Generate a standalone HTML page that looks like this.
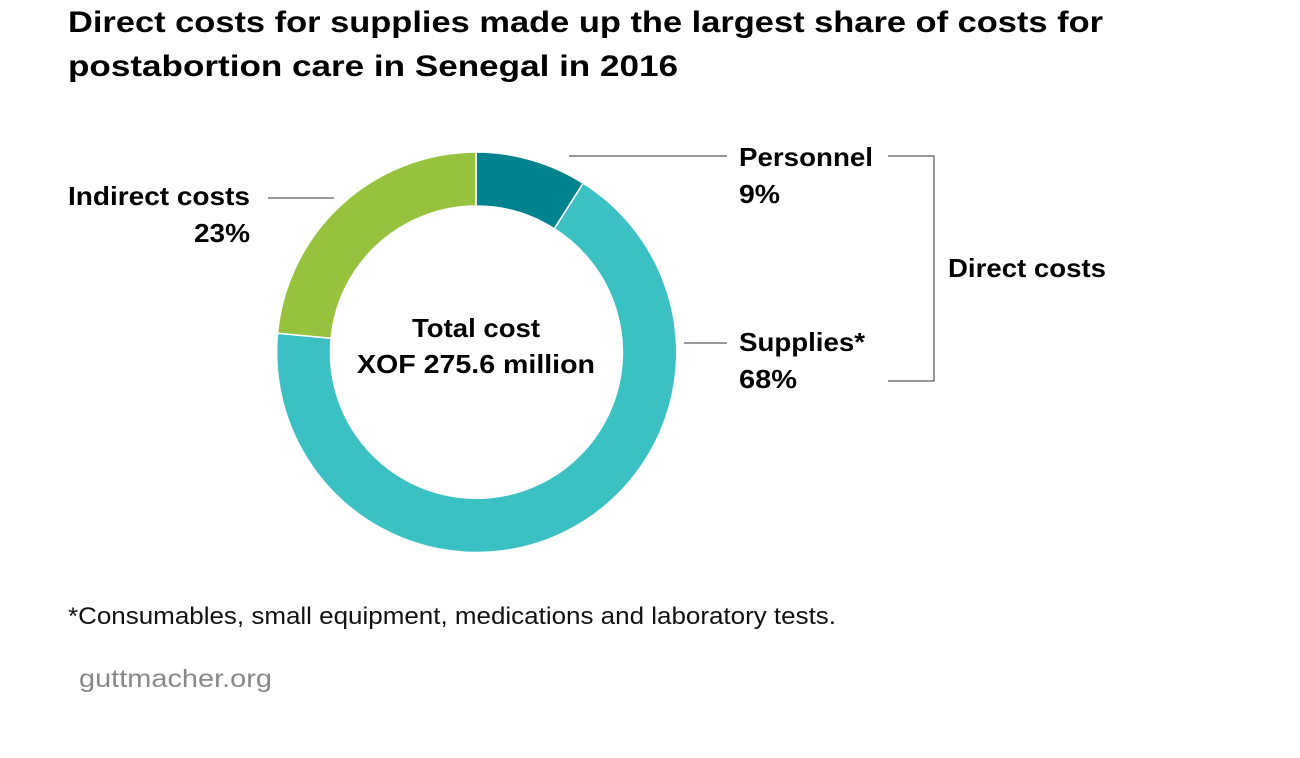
<!DOCTYPE html>
<html><head><style>
body{margin:0;background:#fff;width:1300px;height:753px;overflow:hidden;font-family:"Liberation Sans",sans-serif}
</style></head><body>
<svg width="1300" height="753" xmlns="http://www.w3.org/2000/svg" font-family="Liberation Sans, sans-serif">
<text x="68" y="32" font-size="30" font-weight="bold" fill="#000" textLength="1035" lengthAdjust="spacingAndGlyphs">Direct costs for supplies made up the largest share of costs for</text>
<text x="68" y="76" font-size="30" font-weight="bold" fill="#000" textLength="610" lengthAdjust="spacingAndGlyphs">postabortion care in Senegal in 2016</text>
<g stroke="#fff" stroke-width="1.5">
<path d="M476,152 A200,200 0 0 1 583.2,183.2 L554.3,228.8 A146,146 0 0 0 476,206 Z" fill="#00838f"/>
<path d="M583.2,183.2 A200,200 0 1 1 277.6,333.2 L331.1,338.3 A146,146 0 1 0 554.3,228.8 Z" fill="#3bc0c4"/>
<path d="M277.6,333.2 A200,200 0 0 1 476,152 L476,206 A146,146 0 0 0 331.1,338.3 Z" fill="#96c23d"/>
</g>
<g font-size="26" font-weight="bold" fill="#000">
<text x="476" y="337" text-anchor="middle" textLength="128" lengthAdjust="spacingAndGlyphs">Total cost</text>
<text x="476" y="373" text-anchor="middle" textLength="238" lengthAdjust="spacingAndGlyphs">XOF 275.6 million</text>
<text x="250" y="205" text-anchor="end" textLength="182" lengthAdjust="spacingAndGlyphs">Indirect costs</text>
<text x="250" y="242" text-anchor="end" textLength="56" lengthAdjust="spacingAndGlyphs">23%</text>
<text x="739" y="166" textLength="134" lengthAdjust="spacingAndGlyphs">Personnel</text>
<text x="739" y="203" textLength="41" lengthAdjust="spacingAndGlyphs">9%</text>
<text x="739" y="351" textLength="126" lengthAdjust="spacingAndGlyphs">Supplies*</text>
<text x="739" y="388" textLength="58" lengthAdjust="spacingAndGlyphs">68%</text>
<text x="948" y="277" textLength="158" lengthAdjust="spacingAndGlyphs">Direct costs</text>
</g>
<g stroke="#333" stroke-width="1" fill="none">
<line x1="268" y1="198" x2="334" y2="198"/>
<line x1="569" y1="156" x2="727" y2="156"/>
<line x1="684" y1="343" x2="727" y2="343"/>
<polyline points="888,156 934,156 934,381 888,381"/>
</g>
<text x="68" y="624" font-size="24" fill="#111" textLength="768" lengthAdjust="spacingAndGlyphs">*Consumables, small equipment, medications and laboratory tests.</text>
<text x="79" y="687" font-size="25" fill="#888" textLength="193" lengthAdjust="spacingAndGlyphs">guttmacher.org</text>
</svg>
</body></html>
